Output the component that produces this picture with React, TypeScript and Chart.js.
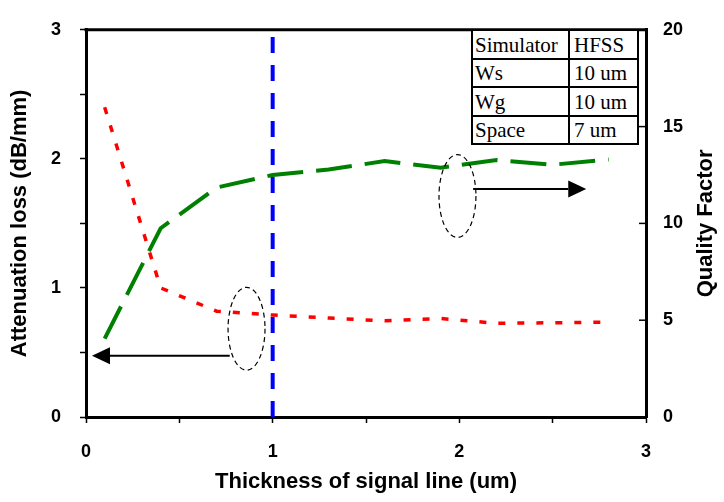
import React, { useEffect, useRef } from 'react';
import { Chart, registerables } from 'chart.js';

Chart.register(...registerables);

// ---- data ----
const thickness = [0.1, 0.4, 0.7, 1.0, 1.3, 1.6, 1.9, 2.2, 2.5, 2.8];
const attenuation = [2.4, 1.0, 0.82, 0.79, 0.767, 0.745, 0.763, 0.726, 0.73, 0.735];
const qualityFactor = [4.05, 9.75, 11.85, 12.5, 12.78, 13.22, 12.88, 13.27, 13.03, 13.3];
const markerX = [1, 1];
const markerY = [0, 3];
const rightTickValues = [5, 10, 15];
const tableRows = [
  ['Simulator', 'HFSS'],
  ['Ws', '10 um'],
  ['Wg', '10 um'],
  ['Space', '7 um'],
];
// annotations in data units (x axis / left y axis)
const ellipses = [
  { cx: 0.86, cy: 0.684, rx: 0.099, ry: 0.321 },
  { cx: 1.99, cy: 1.712, rx: 0.099, ry: 0.321 },
];
const arrows = [
  { x1: 0.77, x2: 0.032, y: 0.474 },
  { x1: 2.074, x2: 2.68, y: 1.766 },
];

const SANS = '"Liberation Sans", Arial, sans-serif';
const tickFont = { family: SANS, size: 18, weight: 'bold' as const };
const titleFont = { family: SANS, size: 22, weight: 'bold' as const };

const overlay = {
  id: 'overlay',
  afterDatasetsDraw(chart: any) {
    const { ctx, chartArea, scales } = chart;
    const { left, right, top, bottom } = chartArea;
    const x = scales.x;
    const y = scales.y;
    const y1 = scales.y1;
    ctx.save();
    // top frame
    ctx.strokeStyle = '#000';
    ctx.lineWidth = 3;
    ctx.beginPath();
    ctx.moveTo(left - 1.5, top);
    ctx.lineTo(right + 1.5, top);
    ctx.stroke();
    // inward ticks on right axis
    ctx.lineWidth = 1.5;
    for (const v of rightTickValues) {
      const py = y1.getPixelForValue(v);
      ctx.beginPath();
      ctx.moveTo(right, py);
      ctx.lineTo(right - 7, py);
      ctx.stroke();
    }
    // dashed ellipses
    ctx.lineWidth = 1.2;
    ctx.setLineDash([5, 3.5]);
    for (const e of ellipses) {
      const cx = x.getPixelForValue(e.cx);
      const cy = y.getPixelForValue(e.cy);
      const rx = Math.abs(x.getPixelForValue(e.cx + e.rx) - cx);
      const ry = Math.abs(y.getPixelForValue(e.cy + e.ry) - cy);
      ctx.beginPath();
      ctx.ellipse(cx, cy, rx, ry, 0, 0, Math.PI * 2);
      ctx.stroke();
    }
    ctx.setLineDash([]);
    // arrows
    ctx.lineWidth = 2;
    ctx.fillStyle = '#000';
    for (const a of arrows) {
      const p1 = x.getPixelForValue(a.x1);
      const p2 = x.getPixelForValue(a.x2);
      const py = y.getPixelForValue(a.y);
      const dir = Math.sign(p2 - p1);
      const head = 18;
      ctx.beginPath();
      ctx.moveTo(p1, py);
      ctx.lineTo(p2 - dir * head, py);
      ctx.stroke();
      ctx.beginPath();
      ctx.moveTo(p2, py);
      ctx.lineTo(p2 - dir * head, py - 8.5);
      ctx.lineTo(p2 - dir * head, py + 8.5);
      ctx.closePath();
      ctx.fill();
    }
    // right axis title (reads bottom to top)
    ctx.font = `bold ${titleFont.size}px ${SANS}`;
    ctx.textAlign = 'center';
    ctx.textBaseline = 'middle';
    ctx.translate(right + 59.5, (top + bottom) / 2);
    ctx.rotate(-Math.PI / 2);
    ctx.fillText('Quality Factor', 0, 0);
    ctx.restore();
  },
};

const intLabel = (v: any) => (Number.isInteger(v) ? String(v) : '');

export default function App() {
  const canvasRef = useRef<HTMLCanvasElement | null>(null);

  useEffect(() => {
    if (!canvasRef.current) return;
    const chart = new Chart(canvasRef.current, {
      type: 'line',
      data: {
        datasets: [
          {
            label: 'Attenuation loss',
            data: thickness.map((t, i) => ({ x: t, y: attenuation[i] })),
            yAxisID: 'y',
            borderColor: '#ff0000',
            borderWidth: 3.5,
            borderDash: [7, 12],
            pointRadius: 0,
            tension: 0,
            order: 2,
          },
          {
            label: 'Quality Factor',
            data: thickness.map((t, i) => ({ x: t, y: qualityFactor[i] })),
            yAxisID: 'y1',
            borderColor: '#008000',
            borderWidth: 4,
            borderDash: [36, 13],
            pointRadius: 0,
            tension: 0,
            order: 1,
          },
          {
            label: 'marker',
            data: markerX.map((v, i) => ({ x: v, y: markerY[i] })),
            yAxisID: 'y',
            borderColor: '#0000ff',
            borderWidth: 4,
            borderDash: [16, 12],
            pointRadius: 0,
            order: 0,
          },
        ],
      },
      options: {
        responsive: false,
        animation: false,
        layout: { padding: { top: 20, left: 0, right: 0, bottom: 0 } },
        plugins: { legend: { display: false }, tooltip: { enabled: false } },
        scales: {
          x: {
            type: 'linear',
            min: 0,
            max: 3,
            ticks: {
              stepSize: 0.5,
              callback: intLabel,
              font: tickFont,
              color: '#000',
              padding: 18,
              maxRotation: 0,
              autoSkip: false,
            },
            grid: { drawOnChartArea: false, drawTicks: true, tickLength: 6, tickColor: '#000', tickWidth: 1.5 },
            border: { display: true, width: 3, color: '#000' },
            title: {
              display: true,
              text: 'Thickness of signal line (um)',
              font: titleFont,
              color: '#000',
              padding: { top: 0, bottom: 7 },
            },
            afterFit: (s: any) => {
              s.height = 85;
            },
          },
          y: {
            type: 'linear',
            position: 'left',
            min: 0,
            max: 3,
            ticks: {
              stepSize: 0.5,
              callback: intLabel,
              font: tickFont,
              color: '#000',
              padding: 19,
              autoSkip: false,
            },
            grid: { drawOnChartArea: false, drawTicks: true, tickLength: 6, tickColor: '#000', tickWidth: 1.5 },
            border: { display: true, width: 3, color: '#000' },
            title: {
              display: true,
              text: 'Attenuation loss (dB/mm)',
              font: titleFont,
              color: '#000',
              padding: { top: 7, bottom: 0 },
            },
            afterFit: (s: any) => {
              s.width = 86;
            },
          },
          y1: {
            type: 'linear',
            position: 'right',
            min: 0,
            max: 20,
            ticks: {
              stepSize: 5,
              font: tickFont,
              color: '#000',
              padding: 17,
              autoSkip: false,
            },
            grid: { drawOnChartArea: false, drawTicks: false },
            border: { display: true, width: 3, color: '#000' },
            afterFit: (s: any) => {
              s.width = 78;
            },
          },
        },
      },
      plugins: [overlay],
    });
    return () => chart.destroy();
  }, []);

  return (
    <div
      style={{
        position: 'fixed',
        left: 0,
        top: 0,
        width: 724,
        height: 502,
        background: '#fff',
      }}
    >
      <canvas ref={canvasRef} width={724} height={502} style={{ width: 724, height: 502, display: 'block' }} />
      <table
        style={{
          position: 'absolute',
          left: 471,
          top: 29,
          borderCollapse: 'collapse',
          fontFamily: '"Liberation Serif", "Times New Roman", serif',
          fontSize: 21,
          color: '#000',
          background: '#fff',
        }}
      >
        <tbody>
          {tableRows.map((row, r) => (
            <tr key={r} style={{ height: 28.5 }}>
              {row.map((cell, c) => (
                <td
                  key={c}
                  style={{
                    border: '2px solid #000',
                    padding: c === 0 ? '0 2px' : '0 4px',
                    width: c === 0 ? 91 : 59,
                    lineHeight: '26px',
                    whiteSpace: 'nowrap',
                    verticalAlign: 'bottom',
                  }}
                >
                  {cell}
                </td>
              ))}
            </tr>
          ))}
        </tbody>
      </table>
    </div>
  );
}
